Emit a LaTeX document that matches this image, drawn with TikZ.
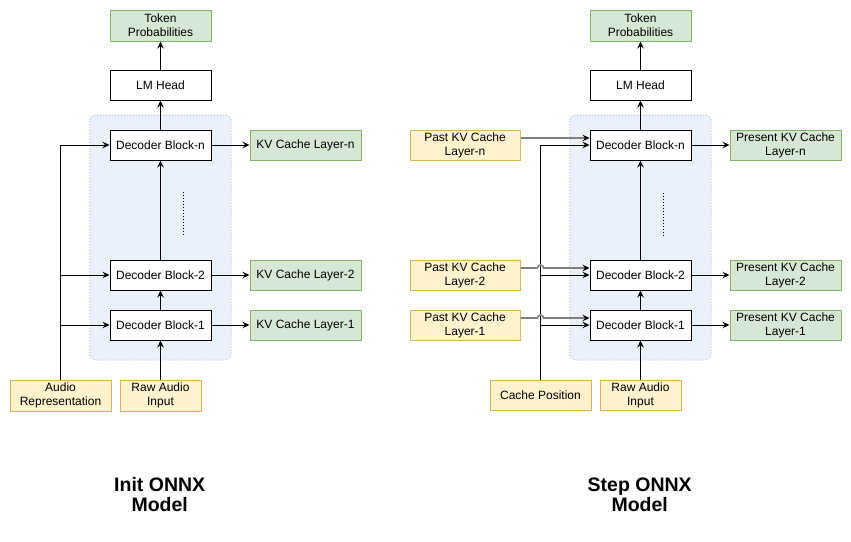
\documentclass[tikz,border=0pt]{standalone}
\usepackage{fontspec}
\setmainfont{Liberation Sans}
\usetikzlibrary{arrows.meta,calc}
\definecolor{gfill}{HTML}{D5E8D4}
\definecolor{gline}{HTML}{82B366}
\definecolor{yfill}{HTML}{FFF2CC}
\definecolor{yline}{HTML}{D6B656}
\definecolor{bfill}{HTML}{EAF1FB}
\definecolor{bline}{HTML}{A9C4EB}
\definecolor{garrow}{HTML}{808080}
\tikzset{
  box/.style={draw, line width=1pt, minimum width=101pt, minimum height=30pt, inner sep=0pt, align=center, font=\fontsize{12}{14}\selectfont},
  plain/.style={box, fill=white},
  green/.style={box, fill=gfill, draw=gline},
  yellow/.style={box, fill=yfill, draw=yline},
  region/.style={draw=bline, fill=bfill, dotted, line width=1pt, rounded corners=6pt},
  arr/.style={-{Stealth[length=7pt,width=6.5pt,inset=2.5pt]}, line width=1pt},
  grarr/.style={-{Stealth[length=7pt,width=6.5pt,inset=2.5pt,black]}, line width=1.6pt, draw=garrow},
  dots/.style={dotted, line width=1pt},
  title/.style={align=center, inner sep=0pt, font=\fontsize{19.5}{20}\selectfont\bfseries}
}
\begin{document}
\begin{tikzpicture}[x=1pt,y=-1pt]
\useasboundingbox[fill=white] (0,0) rectangle (851,541);

% ---------- Init model ----------
\draw[region] (90,115) rectangle (231,360);
\node[green, minimum height=31pt] (tokL) at (160.5,25.5) {Token\\Probabilities};
\node[plain] (lmL) at (160.5,85) {LM Head};
\node[plain] (dnL) at (160.5,145) {Decoder Block-n};
\node[plain] (d2L) at (160.5,275) {Decoder Block-2};
\node[plain] (d1L) at (160.5,325) {Decoder Block-1};
\node[green, minimum width=111pt] (kvnL) at (305.5,145) {KV Cache Layer-n};
\node[green, minimum width=111pt] (kv2L) at (305.5,275) {KV Cache Layer-2};
\node[green, minimum width=111pt] (kv1L) at (305.5,325) {KV Cache Layer-1};
\node[yellow, minimum height=31pt] (audL) at (60.5,395.5) {Audio\\Representation};
\node[yellow, minimum width=81pt, minimum height=31pt] (rawL) at (160.5,395.5) {Raw Audio\\Input};
\draw[dots] (183,192) -- (183,237);

\draw[arr] (lmL) -- (tokL);
\draw[arr] (dnL) -- (lmL);
\draw[arr] (d2L) -- (dnL);
\draw[arr] (d1L) -- (d2L);
\draw[arr] (rawL) -- (d1L);
\draw[arr] (dnL) -- (kvnL);
\draw[arr] (d2L) -- (kv2L);
\draw[arr] (d1L) -- (kv1L);
\draw[arr] (audL.north) |- (dnL.west);
\draw[arr] (audL.north |- d2L.west) -- (d2L.west);
\draw[arr] (audL.north |- d1L.west) -- (d1L.west);

\node[title] (tL) at (159.7,494.7) {Init ONNX\\Model};

% ---------- Step model ----------
\draw[region] (570,115) rectangle (711,360);
\node[green, minimum height=31pt] (tokR) at (640.5,25.5) {Token\\Probabilities};
\node[plain] (lmR) at (640.5,85) {LM Head};
\node[plain] (dnR) at (640.5,145) {Decoder Block-n};
\node[plain] (d2R) at (640.5,275) {Decoder Block-2};
\node[plain] (d1R) at (640.5,325) {Decoder Block-1};
\node[green, minimum width=111pt] (kvnR) at (785.5,145) {Present KV Cache\\Layer-n};
\node[green, minimum width=111pt] (kv2R) at (785.5,275) {Present KV Cache\\Layer-2};
\node[green, minimum width=111pt] (kv1R) at (785.5,325) {Present KV Cache\\Layer-1};
\node[yellow, minimum width=110pt] (pnR) at (465,145) {Past KV Cache\\Layer-n};
\node[yellow, minimum width=110pt] (p2R) at (465,275) {Past KV Cache\\Layer-2};
\node[yellow, minimum width=110pt] (p1R) at (465,325) {Past KV Cache\\Layer-1};
\node[yellow] (cpR) at (540.5,395) {Cache Position};
\node[yellow, minimum width=81pt] (rawR) at (640.5,395) {Raw Audio\\Input};
\draw[dots] (663,193) -- (663,237);

\draw[arr] (lmR) -- (tokR);
\draw[arr] (dnR) -- (lmR);
\draw[arr] (d2R) -- (dnR);
\draw[arr] (d1R) -- (d2R);
\draw[arr] (rawR) -- (d1R);
\draw[arr] (dnR) -- (kvnR);
\draw[arr] (d2R) -- (kv2R);
\draw[arr] (d1R) -- (kv1R);

\draw[arr] (cpR.north) |- (dnR.west);
\draw[arr] (cpR.north |- d2R.west) -- (d2R.west);
\draw[arr] (cpR.north |- d1R.west) -- (d1R.west);

\draw[grarr] ($(pnR.east)+(0,-7)$) -- ($(dnR.west)+(0,-7)$);
\draw[grarr] ($(p2R.east)+(0,-7)$) -- ($(p2R.east -| cpR.north)+(-3,-7)$)
  .. controls +(0,-4) and +(0,-4) .. ($(p2R.east -| cpR.north)+(3,-7)$)
  -- ($(d2R.west)+(0,-7)$);
\draw[grarr] ($(p1R.east)+(0,-7)$) -- ($(p1R.east -| cpR.north)+(-3,-7)$)
  .. controls +(0,-4) and +(0,-4) .. ($(p1R.east -| cpR.north)+(3,-7)$)
  -- ($(d1R.west)+(0,-7)$);

\node[title] (tR) at (639.7,494.7) {Step ONNX\\Model};
\end{tikzpicture}
\end{document}
